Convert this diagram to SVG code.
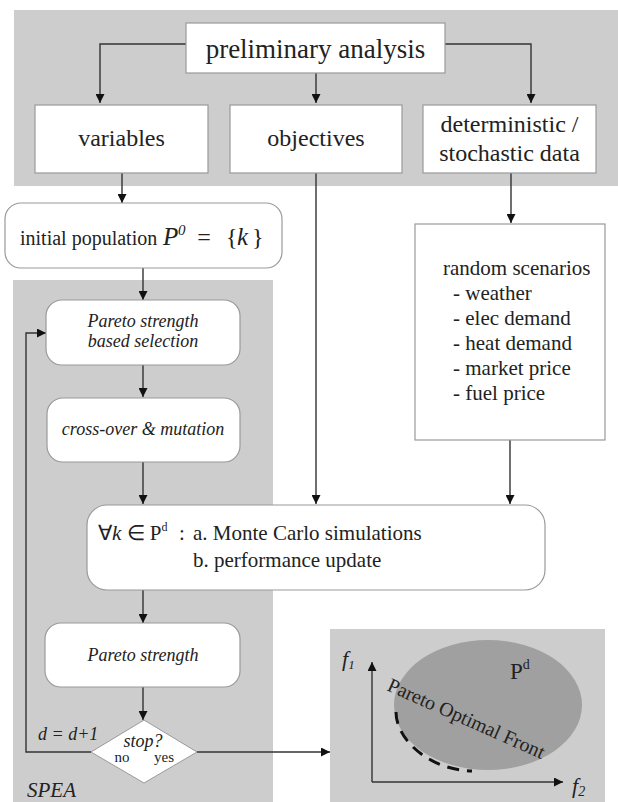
<svg xmlns="http://www.w3.org/2000/svg" width="618" height="802" viewBox="0 0 618 802" font-family="'Liberation Serif', 'Times New Roman', serif">
<defs>
<marker id="ah" viewBox="0 0 10 10" refX="10" refY="5" markerWidth="10" markerHeight="9" markerUnits="userSpaceOnUse" orient="auto">
<path d="M0,0 L10,5 L0,10 z" fill="#111"/>
</marker>
<style>
text{fill:#222}
.box{fill:#fff;stroke:#9a9a9a;stroke-width:1.2}
.panel{fill:#cdcdcd}
.c{fill:none;stroke:#333;stroke-width:1.4}
.it{font-style:italic}
</style>
</defs>
<rect width="618" height="802" fill="#fff"/>
<g id="panels">
<rect class="panel" x="14" y="10" width="604" height="176"/>
<rect class="panel" x="13" y="280" width="260" height="522"/>
<rect class="panel" x="330" y="629" width="275" height="173" fill="#d2d2d2"/>
</g>
<g id="connectors">
<path class="c" d="M186,44 H100 V103" marker-end="url(#ah)"/>
<path class="c" d="M316,73 V103" marker-end="url(#ah)"/>
<path class="c" d="M445,44 H531 V103" marker-end="url(#ah)"/>
<path class="c" d="M122,173 V203" marker-end="url(#ah)"/>
<path class="c" d="M143,268 V300" marker-end="url(#ah)"/>
<path class="c" d="M143,365 V397" marker-end="url(#ah)"/>
<path class="c" d="M143,462 V504" marker-end="url(#ah)"/>
<path class="c" d="M316,173 V504" marker-end="url(#ah)"/>
<path class="c" d="M511,173 V223" marker-end="url(#ah)"/>
<path class="c" d="M510,440 V504" marker-end="url(#ah)"/>
<path class="c" d="M143,590 V623" marker-end="url(#ah)"/>
<path class="c" d="M143,687 V720" marker-end="url(#ah)"/>
<path class="c" d="M91,752 H26 V333 H46" marker-end="url(#ah)"/>
<path class="c" d="M197,752 H330" marker-end="url(#ah)"/>
</g>
<g id="preliminary">
<rect class="box" x="186" y="23" width="259" height="50"/>
<text x="315.5" y="58" font-size="27" text-anchor="middle">preliminary analysis</text>
</g>
<g id="variables">
<rect class="box" x="35" y="105" width="173" height="68"/>
<text x="121.5" y="146" font-size="24" text-anchor="middle">variables</text>
</g>
<g id="objectives">
<rect class="box" x="230" y="105" width="172" height="68"/>
<text x="316" y="146" font-size="24" text-anchor="middle">objectives</text>
</g>
<g id="data">
<rect class="box" x="423" y="105" width="173" height="68"/>
<text x="509.5" y="132" font-size="24" text-anchor="middle">deterministic /</text>
<text x="509.5" y="161" font-size="24" text-anchor="middle">stochastic data</text>
</g>
<g id="initial">
<rect class="box" x="5" y="203" width="277" height="65" rx="16"/>
<text x="20" y="245" font-size="20">initial population</text>
<text x="163" y="245" font-size="25" class="it">P</text>
<text x="178" y="235" font-size="15" class="it">0</text>
<text x="204" y="245" font-size="24" text-anchor="middle">=</text>
<text x="226" y="245" font-size="24">{</text>
<text x="237" y="245" font-size="25" class="it">k</text>
<text x="252" y="245" font-size="24">}</text>
</g>
<g id="selection">
<rect class="box" x="46" y="300" width="194" height="65" rx="16"/>
<text class="it" x="143" y="327" font-size="18" text-anchor="middle">Pareto strength</text>
<text class="it" x="143" y="347" font-size="18" text-anchor="middle">based selection</text>
</g>
<g id="crossover">
<rect class="box" x="47" y="398" width="193" height="64" rx="16"/>
<text class="it" x="143" y="435" font-size="18" text-anchor="middle">cross-over &amp; mutation</text>
</g>
<g id="scenarios">
<rect class="box" x="415" y="224" width="190" height="216"/>
<text x="443" y="275" font-size="21">random scenarios</text>
<text x="453" y="300" font-size="21">- weather</text>
<text x="453" y="325" font-size="21">- elec demand</text>
<text x="453" y="350" font-size="21">- heat demand</text>
<text x="453" y="375" font-size="21">- market price</text>
<text x="453" y="400" font-size="21">- fuel price</text>
</g>
<g id="montecarlo">
<rect class="box" x="87" y="505" width="458" height="85" rx="20"/>
<text x="98" y="540" font-size="21">∀<tspan class="it">k</tspan> ∈ P<tspan font-size="12" dy="-9">d</tspan></text>
<text x="179" y="540" font-size="21">:</text>
<text x="193" y="540" font-size="21">a. Monte Carlo simulations</text>
<text x="193" y="567" font-size="21">b. performance update</text>
</g>
<g id="strength">
<rect class="box" x="45" y="623" width="195" height="64" rx="16"/>
<text class="it" x="143" y="661" font-size="18" text-anchor="middle">Pareto strength</text>
</g>
<g id="stop">
<path d="M144,720 L197,752 L144,783 L91,752 z" fill="#fff" stroke="#9a9a9a" stroke-width="1"/>
<text class="it" x="143" y="747" font-size="18" text-anchor="middle">stop?</text>
<text x="122" y="762" font-size="15" text-anchor="middle">no</text>
<text x="164" y="762" font-size="15" text-anchor="middle">yes</text>
</g>
<text class="it" x="38" y="740" font-size="18">d = d+1</text>
<text class="it" x="27" y="797" font-size="21">SPEA</text>
<g id="pareto-front">
<ellipse cx="488" cy="705" rx="94" ry="65" fill="#a0a0a0"/>
<path d="M396,712 C396,740 430,770 472,771" fill="none" stroke="#111" stroke-width="3" stroke-dasharray="12,8"/>
<path class="c" d="M372,782 V662" marker-end="url(#ah)"/>
<path class="c" d="M372,782 H563" marker-end="url(#ah)"/>
<text class="it" x="342" y="666" font-size="22">f<tspan font-size="13" dy="3">1</tspan></text>
<text class="it" x="572" y="793" font-size="22">f<tspan font-size="14" dy="3">2</tspan></text>
<text x="510" y="679" font-size="23">P<tspan font-size="14" dy="-10">d</tspan></text>
<text x="386" y="690" font-size="20" transform="rotate(24 386 690)">Pareto Optimal Front</text>
</g>
</svg>
